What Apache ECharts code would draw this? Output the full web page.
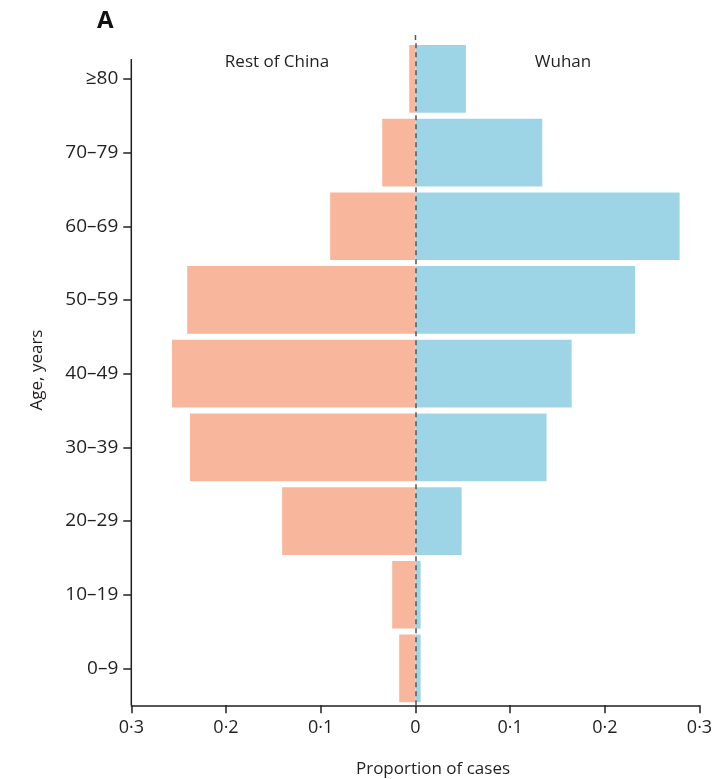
<!DOCTYPE html>
<html>
<head>
<meta charset="utf-8">
<script src="https://cdn.jsdelivr.net/npm/echarts@6/dist/echarts.min.js"></script>
<style>
html,body{margin:0;padding:0;background:#fff;}
#chart{width:720px;height:779px;}
</style>
</head>
<body>
<div id="chart"></div>
<script>
const ageGroups = ['0–9','10–19','20–29','30–39','40–49','50–59','60–69','70–79','≥80'];
const restOfChina = [0.0171,0.0245,0.1407,0.238,0.257,0.241,0.090,0.035,0.0065];
const wuhan = [0.0055,0.0055,0.0488,0.1385,0.165,0.232,0.279,0.134,0.0533];
const xTicks = [-0.3,-0.2,-0.1,0,0.1,0.2,0.3];

const FONT = '"Open Sans", "Noto Sans", sans-serif';
const TXT = '#231f20';

const chart = echarts.init(document.getElementById('chart'), null, {renderer:'canvas'});
chart.setOption({
  animation:false,
  backgroundColor:'#fff',
  grid:{left:131.3, right:20.5, top:42, bottom:73.7, containLabel:false},
  xAxis:{
    type:'value', min:xTicks[0], max:xTicks[xTicks.length-1], interval:0.1,
    axisLine:{show:true, onZero:false, lineStyle:{color:TXT, width:1.5}},
    axisTick:{show:true, length:8, lineStyle:{color:TXT, width:1.5}},
    splitLine:{show:false},
    axisLabel:{
      margin:14, color:TXT, fontFamily:FONT, fontSize:18,
      formatter:v=>{const a=Math.abs(Math.round(v*10)/10); return a===0?'0':a.toFixed(1).replace('.','·');}
    }
  },
  yAxis:{
    type:'category', data:ageGroups,
    axisLine:{show:false, onZero:false},
    axisTick:{show:true, alignWithLabel:true, length:8, lineStyle:{color:TXT, width:1.5}},
    axisLabel:{margin:13, color:TXT, fontFamily:FONT, fontSize:19}
  },
  series:[
    {
      name:'Rest of China', type:'bar', data:restOfChina.map(v=>-v),
      barGap:'-100%', barCategoryGap:'8.2%',
      itemStyle:{color:'#F8B79D'}
    },
    {
      name:'Wuhan', type:'bar', data:wuhan,
      barGap:'-100%', barCategoryGap:'8.2%',
      itemStyle:{color:'#9DD5E7'},
      markLine:{
        silent:true, symbol:'none', label:{show:false},
        lineStyle:{color:'#555', type:[5,4], width:1.5},
        data:[{xAxis:0}]
      }
    }
  ],
  graphic:[
    {type:'line', shape:{x1:131.3, y1:59, x2:131.3, y2:705.3}, style:{stroke:TXT, lineWidth:1.5}},
    {type:'line', shape:{x1:415.5, y1:35, x2:415.5, y2:42}, style:{stroke:'#555', lineWidth:1.5, lineDash:[5,4]}},
    {type:'text', left:97, top:9, style:{text:'A', font:'bold 24px '+FONT, fill:'#111'}},
    {type:'text', x:277, y:62, style:{text:'Rest of China', font:'17px '+FONT, fill:TXT, textAlign:'center', textVerticalAlign:'middle'}},
    {type:'text', x:563, y:62, style:{text:'Wuhan', font:'17px '+FONT, fill:TXT, textAlign:'center', textVerticalAlign:'middle'}},
    {type:'text', x:433, y:769, style:{text:'Proportion of cases', font:'17px '+FONT, fill:TXT, textAlign:'center', textVerticalAlign:'middle'}},
    {type:'text', x:37, y:370, rotation:Math.PI/2, style:{text:'Age, years', font:'17px '+FONT, fill:TXT, textAlign:'center', textVerticalAlign:'middle'}}
  ]
});
</script>
</body>
</html>
